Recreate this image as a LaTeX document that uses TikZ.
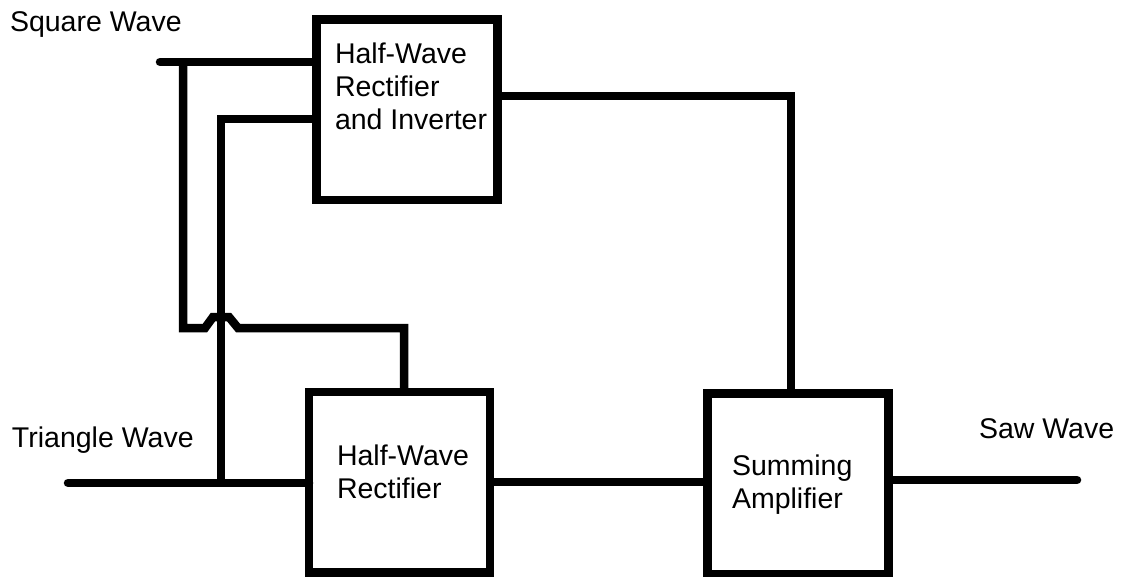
\documentclass[tikz,border=0pt]{standalone}
\usepackage{fontspec}
\setmainfont{Liberation Sans}
\begin{document}
\begin{tikzpicture}[x=1pt,y=-1pt,
  block/.style={draw, line width=8.5pt, inner sep=0pt, outer sep=0pt,
                minimum width=181pt, minimum height=180.5pt},
  wire/.style={line width=8.5pt, line join=miter},
  txt/.style={inner sep=0pt, outer sep=0pt, align=left,
              font=\fontsize{28.5}{33}\selectfont}]
\useasboundingbox (0,0) rectangle (1124,577);

% blocks
\node[block] (hwri) at (407,109.75) {};
\node[block] (hwr)  at (399.5,482) {};
\node[block] (sum)  at (798,483.5) {};

% block captions (base anchor sits on the last line)
\node[txt, anchor=base west] (hwrit) at (335,130) {Half-Wave\\Rectifier\\and Inverter};
\node[txt, anchor=base west] (hwrt)  at (337,498) {Half-Wave\\Rectifier};
\node[txt, anchor=base west] (sumt)  at (732,508) {Summing\\Amplifier};

% signal labels
\node[txt, anchor=base west] (sqlbl)  at (10,32)  {Square Wave};
\node[txt, anchor=base west] (trlbl)  at (12,447) {Triangle Wave};
\node[txt, anchor=base west] (sawlbl) at (979,438) {Saw Wave};

% wiring points
\coordinate (sqin)  at (160,62);
\coordinate (sqtap) at (183,62);
\coordinate (trin)  at (68,483);
\coordinate (trtap) at (221,483);
\coordinate (trup)  at (221,119);
\coordinate (fbup)  at (404,328);
\coordinate (topr)  at (791,96);
\coordinate (sawout) at (1077,480);

% square wave into the rectifier/inverter
\draw[wire, line cap=round] (sqin) -- (hwri.west |- sqin);
% square wave down, hopping over the triangle tap, into the rectifier
\draw[wire] (sqtap) -- (183,328) -- (205,328) -- (213,317) -- (229,317)
  -- (238,328) -- (fbup) -- (hwr.north -| fbup);
% triangle wave into the rectifier
\draw[wire, line cap=round] (trin) -- (hwr.west |- trin);
% triangle wave up into the rectifier/inverter
\draw[wire] (trtap) -- (trup) -- (hwri.west |- trup);
% rectifier into summing amplifier
\draw[wire] (hwr.east |- 0,482) -- (sum.west |- 0,482);
% rectifier/inverter into summing amplifier
\draw[wire] (hwri.east |- topr) -- (topr) -- (sum.north -| topr);
% output
\draw[wire, line cap=round] (sum.east |- sawout) -- (sawout);
\end{tikzpicture}
\end{document}
